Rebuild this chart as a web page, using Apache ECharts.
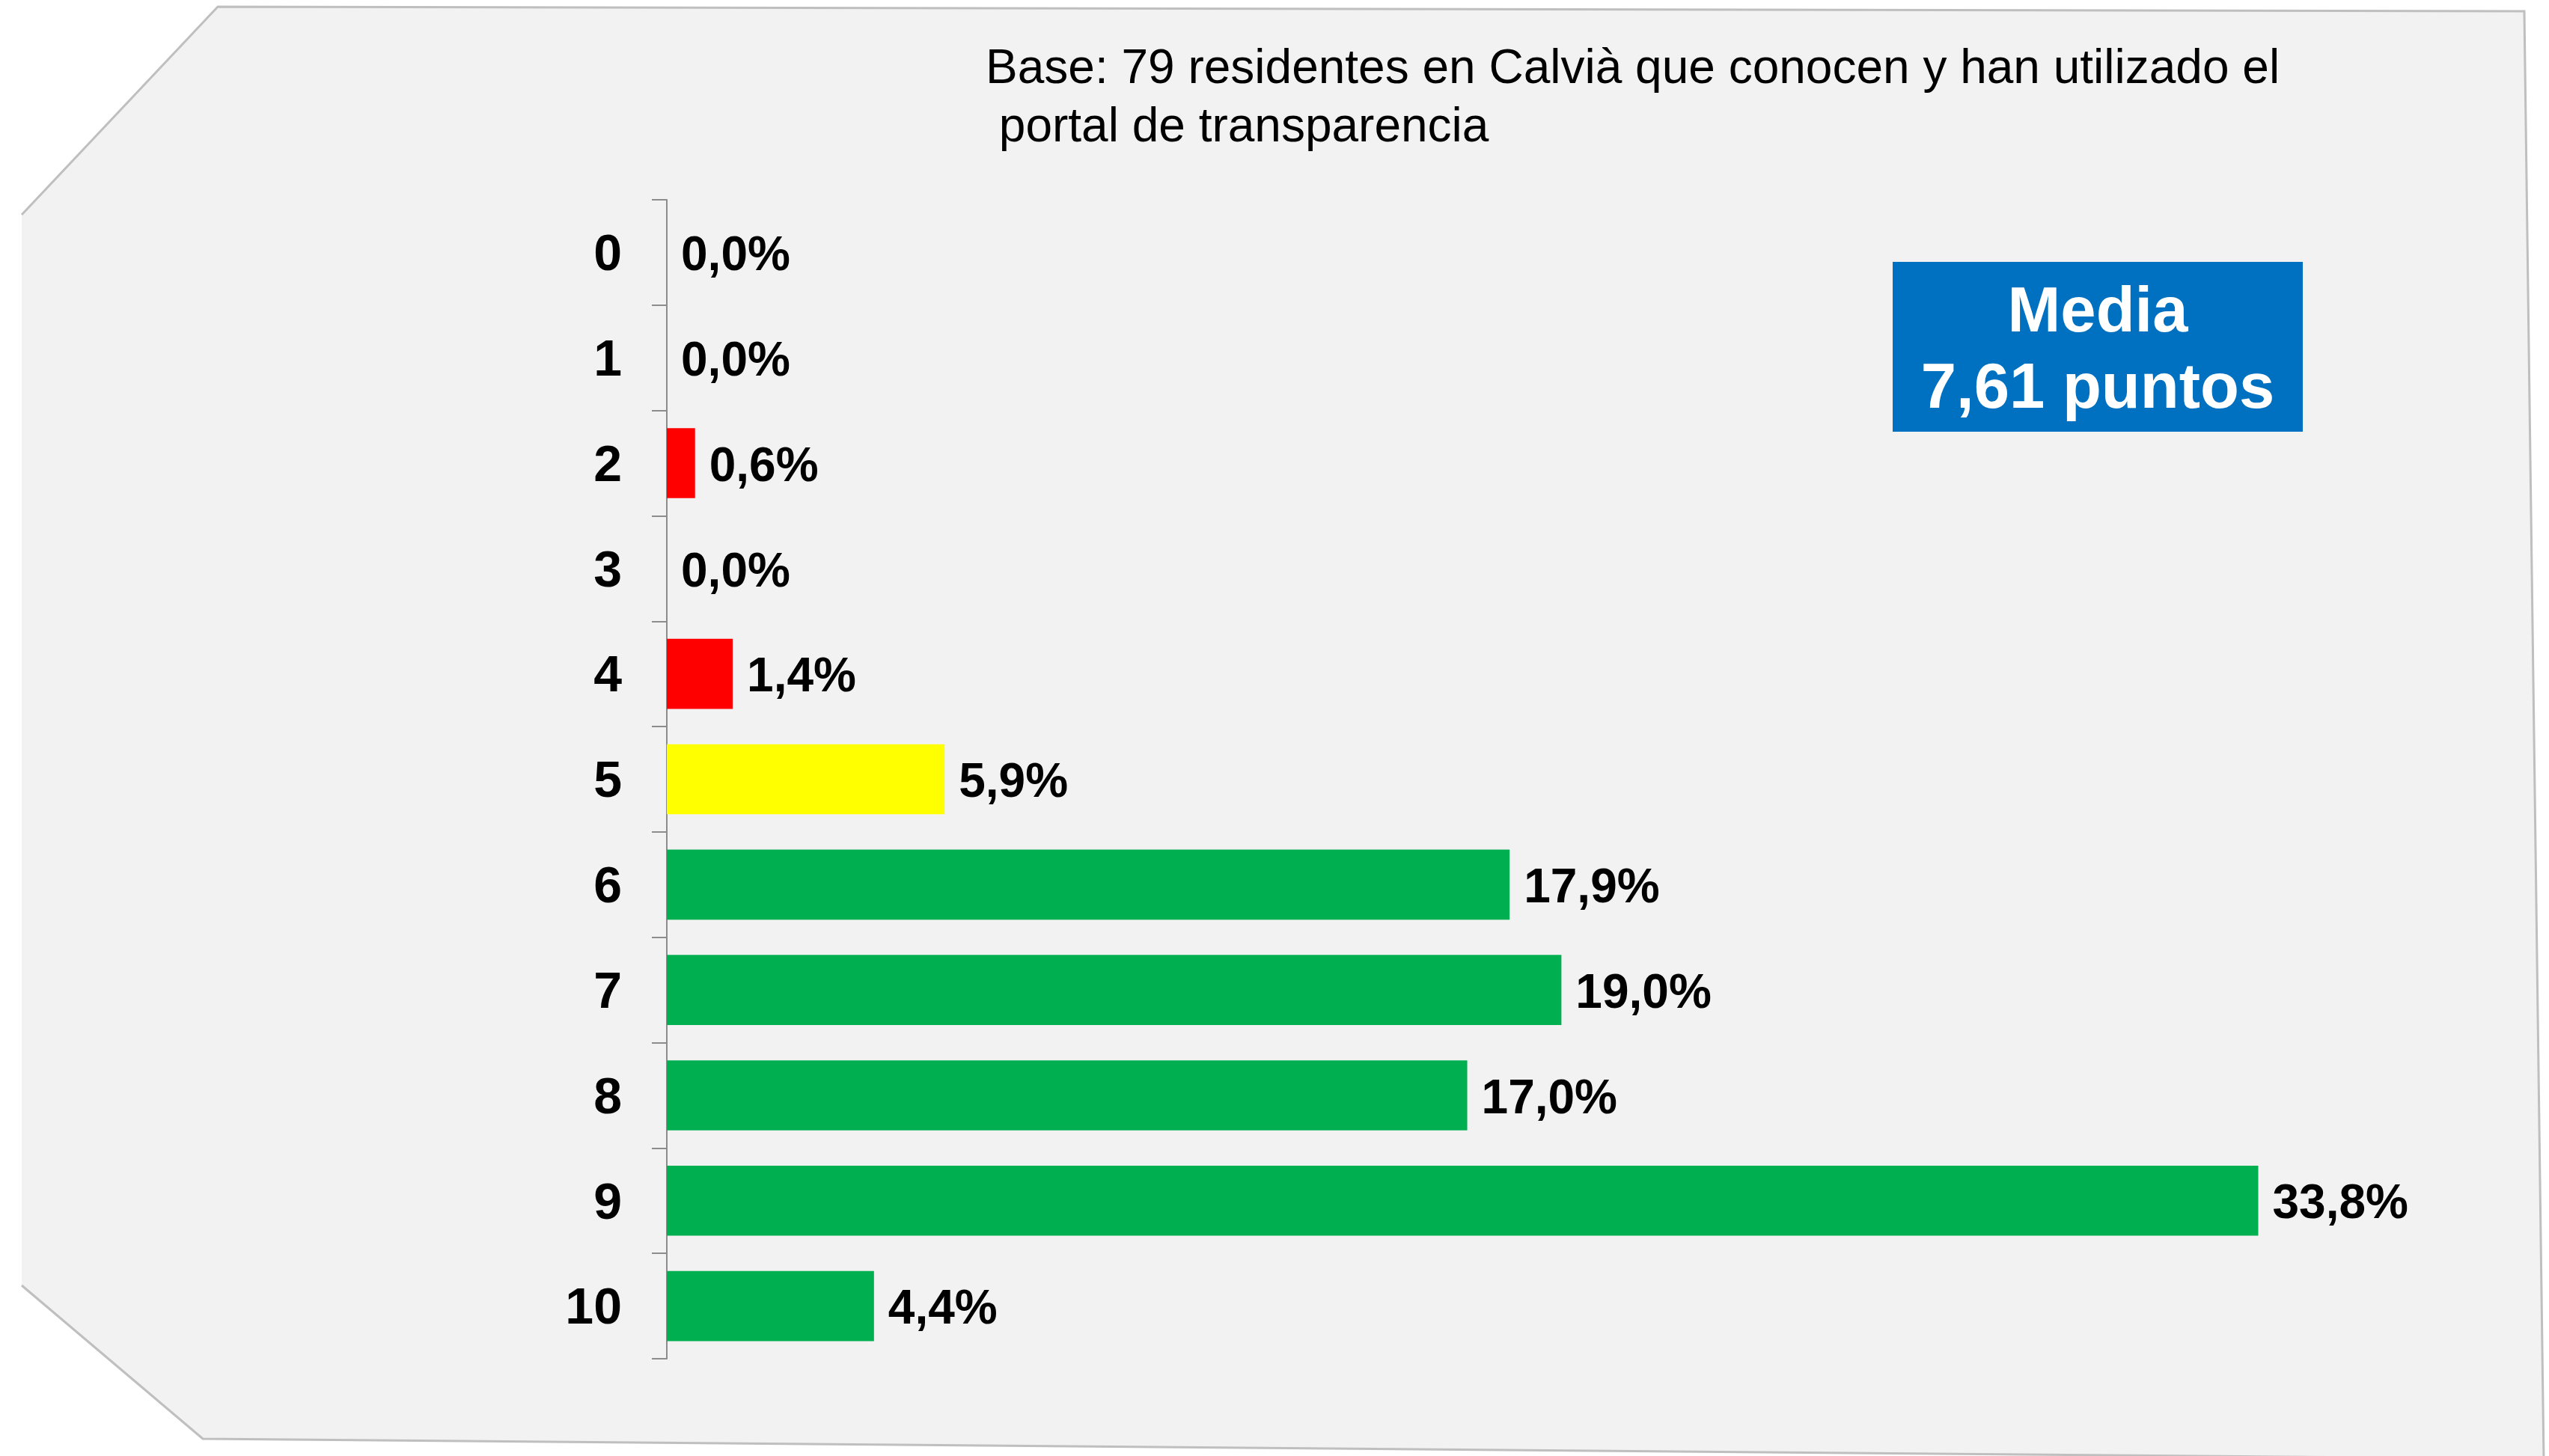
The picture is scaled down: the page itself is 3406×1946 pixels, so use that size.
<!DOCTYPE html>
<html>
<head>
    <meta charset="UTF-8">
    <title>Valoración portal de transparencia</title>
    <script type="text/javascript" src="https://cdn.jsdelivr.net/npm/echarts@6/dist/echarts.min.js"></script>
</head>
<body style="margin:0; background-color:#ffffff;">
  <div id="main" style="width:3406px; height:1946px;"></div>

  <script>
    // puntuaciones 0-10 y porcentaje de residentes
    var categorias = ['0', '1', '2', '3', '4', '5', '6', '7', '8', '9', '10'];
    var porcentajes = [0.0, 0.0, 0.6, 0.0, 1.4, 5.9, 17.9, 19.0, 17.0, 33.8, 4.4];
    var colores = ['#FF0000', '#FF0000', '#FF0000', '#FF0000', '#FF0000', '#FFFF00',
                   '#00B050', '#00B050', '#00B050', '#00B050', '#00B050'];
    var textoBase = 'Base: 79 residentes en Calvià que conocen y han utilizado el\n portal de transparencia';
    var textoMedia = 'Media\n7,61 puntos';

    var chart = echarts.init(document.getElementById('main'), null, {renderer: 'canvas'});

    var datos = porcentajes.map(function (v, i) {
        return {value: v, itemStyle: {color: colores[i]}};
    });

    // contorno del fondo (esquinas izquierdas cortadas)
    var contorno = [[29, 287], [291, 9], [3373, 15], [3399, 1950], [271, 1923], [29, 1718]];

    var option = {
        animation: false,
        graphic: [
            {
                type: 'polygon', z: -10,
                shape: {points: contorno},
                style: {fill: '#F2F2F2'}
            },
            {
                type: 'polyline', z: -9,
                shape: {points: contorno},
                style: {stroke: '#BFBFBF', lineWidth: 3, fill: null}
            },
            {
                type: 'text', left: 1317, top: 54,
                style: {
                    text: textoBase, fill: '#000000',
                    font: '64px "Liberation Sans", Arial, sans-serif',
                    lineHeight: 78
                }
            },
            {
                type: 'rect',
                shape: {x: 2529, y: 350, width: 548, height: 227},
                style: {fill: '#0070C0'}
            },
            {
                type: 'text', x: 2803, y: 471,
                style: {
                    text: textoMedia, fill: '#ffffff',
                    font: 'bold 85px "Liberation Sans", Arial, sans-serif',
                    lineHeight: 102, align: 'center', verticalAlign: 'middle'
                }
            }
        ],
        grid: {left: 891, top: 267, width: 2202, height: 1549},
        xAxis: {
            type: 'value', min: 0, max: 35,
            show: false
        },
        yAxis: {
            type: 'category',
            data: categorias,
            inverse: true,
            axisLine: {show: true, lineStyle: {color: '#8C8C8C', width: 2}},
            axisTick: {show: true, length: 20, lineStyle: {color: '#8C8C8C', width: 2}},
            axisLabel: {
                margin: 60,
                formatter: function (v) { return '{n|' + v + '}'; },
                rich: {
                    n: {
                        color: '#000000',
                        fontFamily: '"Liberation Sans", Arial, sans-serif',
                        fontWeight: 'bold',
                        fontSize: 68,
                        padding: [10, 0, 0, 0]
                    }
                }
            },
            splitLine: {show: false}
        },
        series: [{
            type: 'bar',
            data: datos,
            barCategoryGap: '33.5%',
            label: {
                show: true,
                position: 'right',
                distance: 19,
                offset: [0, 6],
                color: '#000000',
                fontFamily: '"Liberation Sans", Arial, sans-serif',
                fontWeight: 'bold',
                fontSize: 64,
                formatter: function (p) {
                    return p.value.toFixed(1).replace('.', ',') + '%';
                }
            }
        }]
    };

    chart.setOption(option);
</script>

</body>
</html>
